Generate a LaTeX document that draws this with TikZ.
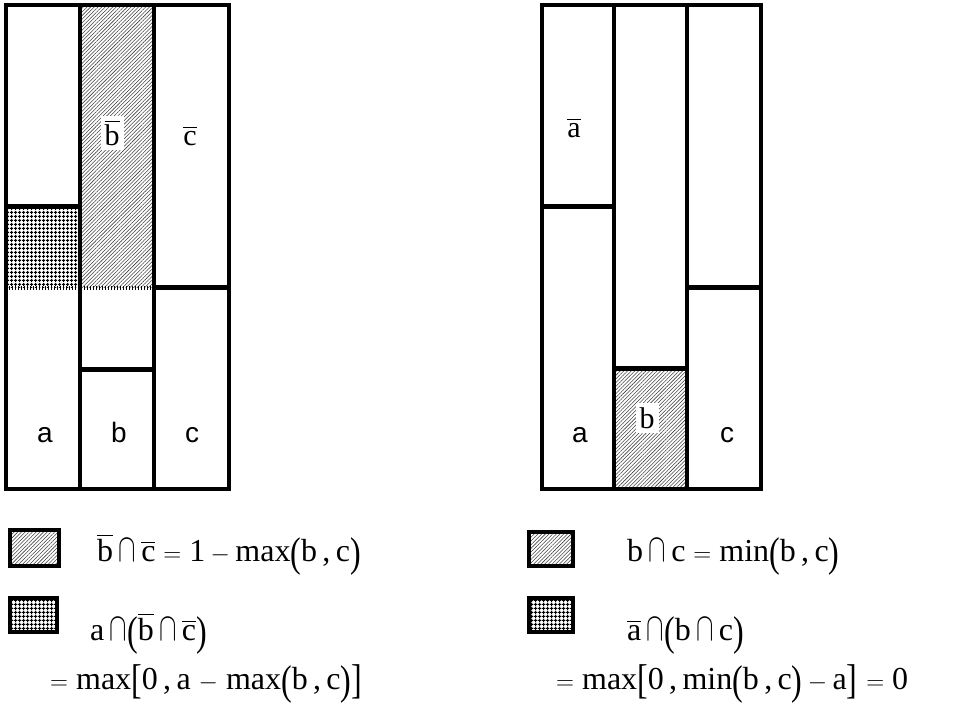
\documentclass[tikz,border=0pt]{standalone}
\usepackage{amsmath}
\usepackage{fontspec}
\setmainfont{Liberation Serif}
\newfontfamily\arialfont{Liberation Sans}
\usepackage{graphicx}
\usetikzlibrary{patterns.meta}

\newcommand{\ov}[1]{\ensuremath{\overline{\hbox{#1}}}}
\newcommand{\bcap}{\ensuremath{\scalebox{1.05}[1.6]{$\cap$}}}
\newcommand{\lp}{\raisebox{-5pt}{\scalebox{1}[1.3]{(}}}
\newcommand{\rp}{\raisebox{-5pt}{\scalebox{1}[1.3]{)}}}
\newcommand{\lb}{\raisebox{-4pt}{\scalebox{1}[1.3]{[}}}
\newcommand{\rb}{\raisebox{-4pt}{\scalebox{1}[1.3]{]}}}

\begin{document}
\begin{tikzpicture}[
    x=1pt, y=-1pt,
    wall/.style={line width=3.5pt},
    cut/.style={line width=5pt},
    hatched/.style={pattern={Lines[angle=45,distance=2.6pt,line width=0.55pt]},
                    pattern color=black!75},
    gridded/.style={pattern={Hatch[angle=0,distance=4pt,line width=1pt]}},
    seam/.style={line width=4pt, dash pattern=on 1.2pt off 1.8pt},
    varlbl/.style={font=\arialfont\fontsize{28}{28}\selectfont, anchor=base},
    barlbl/.style={font=\fontsize{30}{30}\selectfont, inner sep=4pt},
    eqn/.style={font=\fontsize{32}{38}\selectfont, anchor=base west,
                inner sep=0pt},
    swatch/.style={line width=4pt}
  ]
    \useasboundingbox (0,0) rectangle (968,708);

    % left bars: a, b, c with complements
    \fill[hatched] (80,5) rectangle (154,288);
    \fill[gridded] (6,207) rectangle (80,288);
    \draw[seam] (6,288) -- (154,288);
    \draw[wall] (6,5) rectangle (229,489);
    \foreach \x in {80,154}
      \draw[wall] (\x,5) -- (\x,489);
    \draw[cut] (6,207) -- (80,207);
    \draw[cut] (80,369) -- (154,369);
    \draw[cut] (154,288) -- (229,288);

    \node[varlbl] (la) at (45,442) {a};
    \node[varlbl] (lb) at (119,442) {b};
    \node[varlbl] (lc) at (192,442) {c};
    \node[barlbl, fill=white] (lbbar) at (112,133) {\ov{b}};
    \node[barlbl] (lcbar) at (190,136) {\ov{c}};

    % right bars
    \fill[hatched] (614,368) rectangle (687,489);
    \draw[wall] (542,5) rectangle (761,489);
    \foreach \x in {614,687}
      \draw[wall] (\x,5) -- (\x,489);
    \draw[cut] (542,207) -- (614,207);
    \draw[cut] (614,368) -- (687,368);
    \draw[cut] (687,288) -- (761,288);

    \node[barlbl] (rabar) at (574,128) {\ov{a}};
    \node[varlbl] (ra) at (580,442) {a};
    \node[barlbl, fill=white] (rb) at (647,418) {b};
    \node[varlbl] (rc) at (727,442) {c};

    % legend
    \draw[swatch, hatched] (10,530) rectangle (59,566);
    \draw[swatch, gridded] (10,598) rectangle (57,632);
    \node[eqn] (leq1) at (97,561)
      {\ov{b}\,\bcap\,\ov{c} $=$ 1\,$-$\,max\lp b\,,\,c\rp};
    \node[eqn] (leq2) at (90,640)
      {a\,\bcap\lp\ov{b}\,\bcap\,\ov{c}\rp};
    \node[eqn] (leq3) at (50,689)
      {$=$ max\lb 0\,,\,a $-$ max\lp b\,,\,c\rp\rb};

    \draw[swatch, hatched] (529,532) rectangle (573,566);
    \draw[swatch, gridded] (529,598) rectangle (573,632);
    \node[eqn] (req1) at (627,561)
      {b\,\bcap\,c $=$ min\lp b\,,\,c\rp};
    \node[eqn] (req2) at (627,640)
      {\ov{a}\,\bcap\lp b\,\bcap\,c\rp};
    \node[eqn] (req3) at (556,689)
      {$=$ max\lb 0\,,\,min\lp b\,,\,c\rp\,$-$\,a\rb\;$=$ 0};
  \end{tikzpicture}
\end{document}
